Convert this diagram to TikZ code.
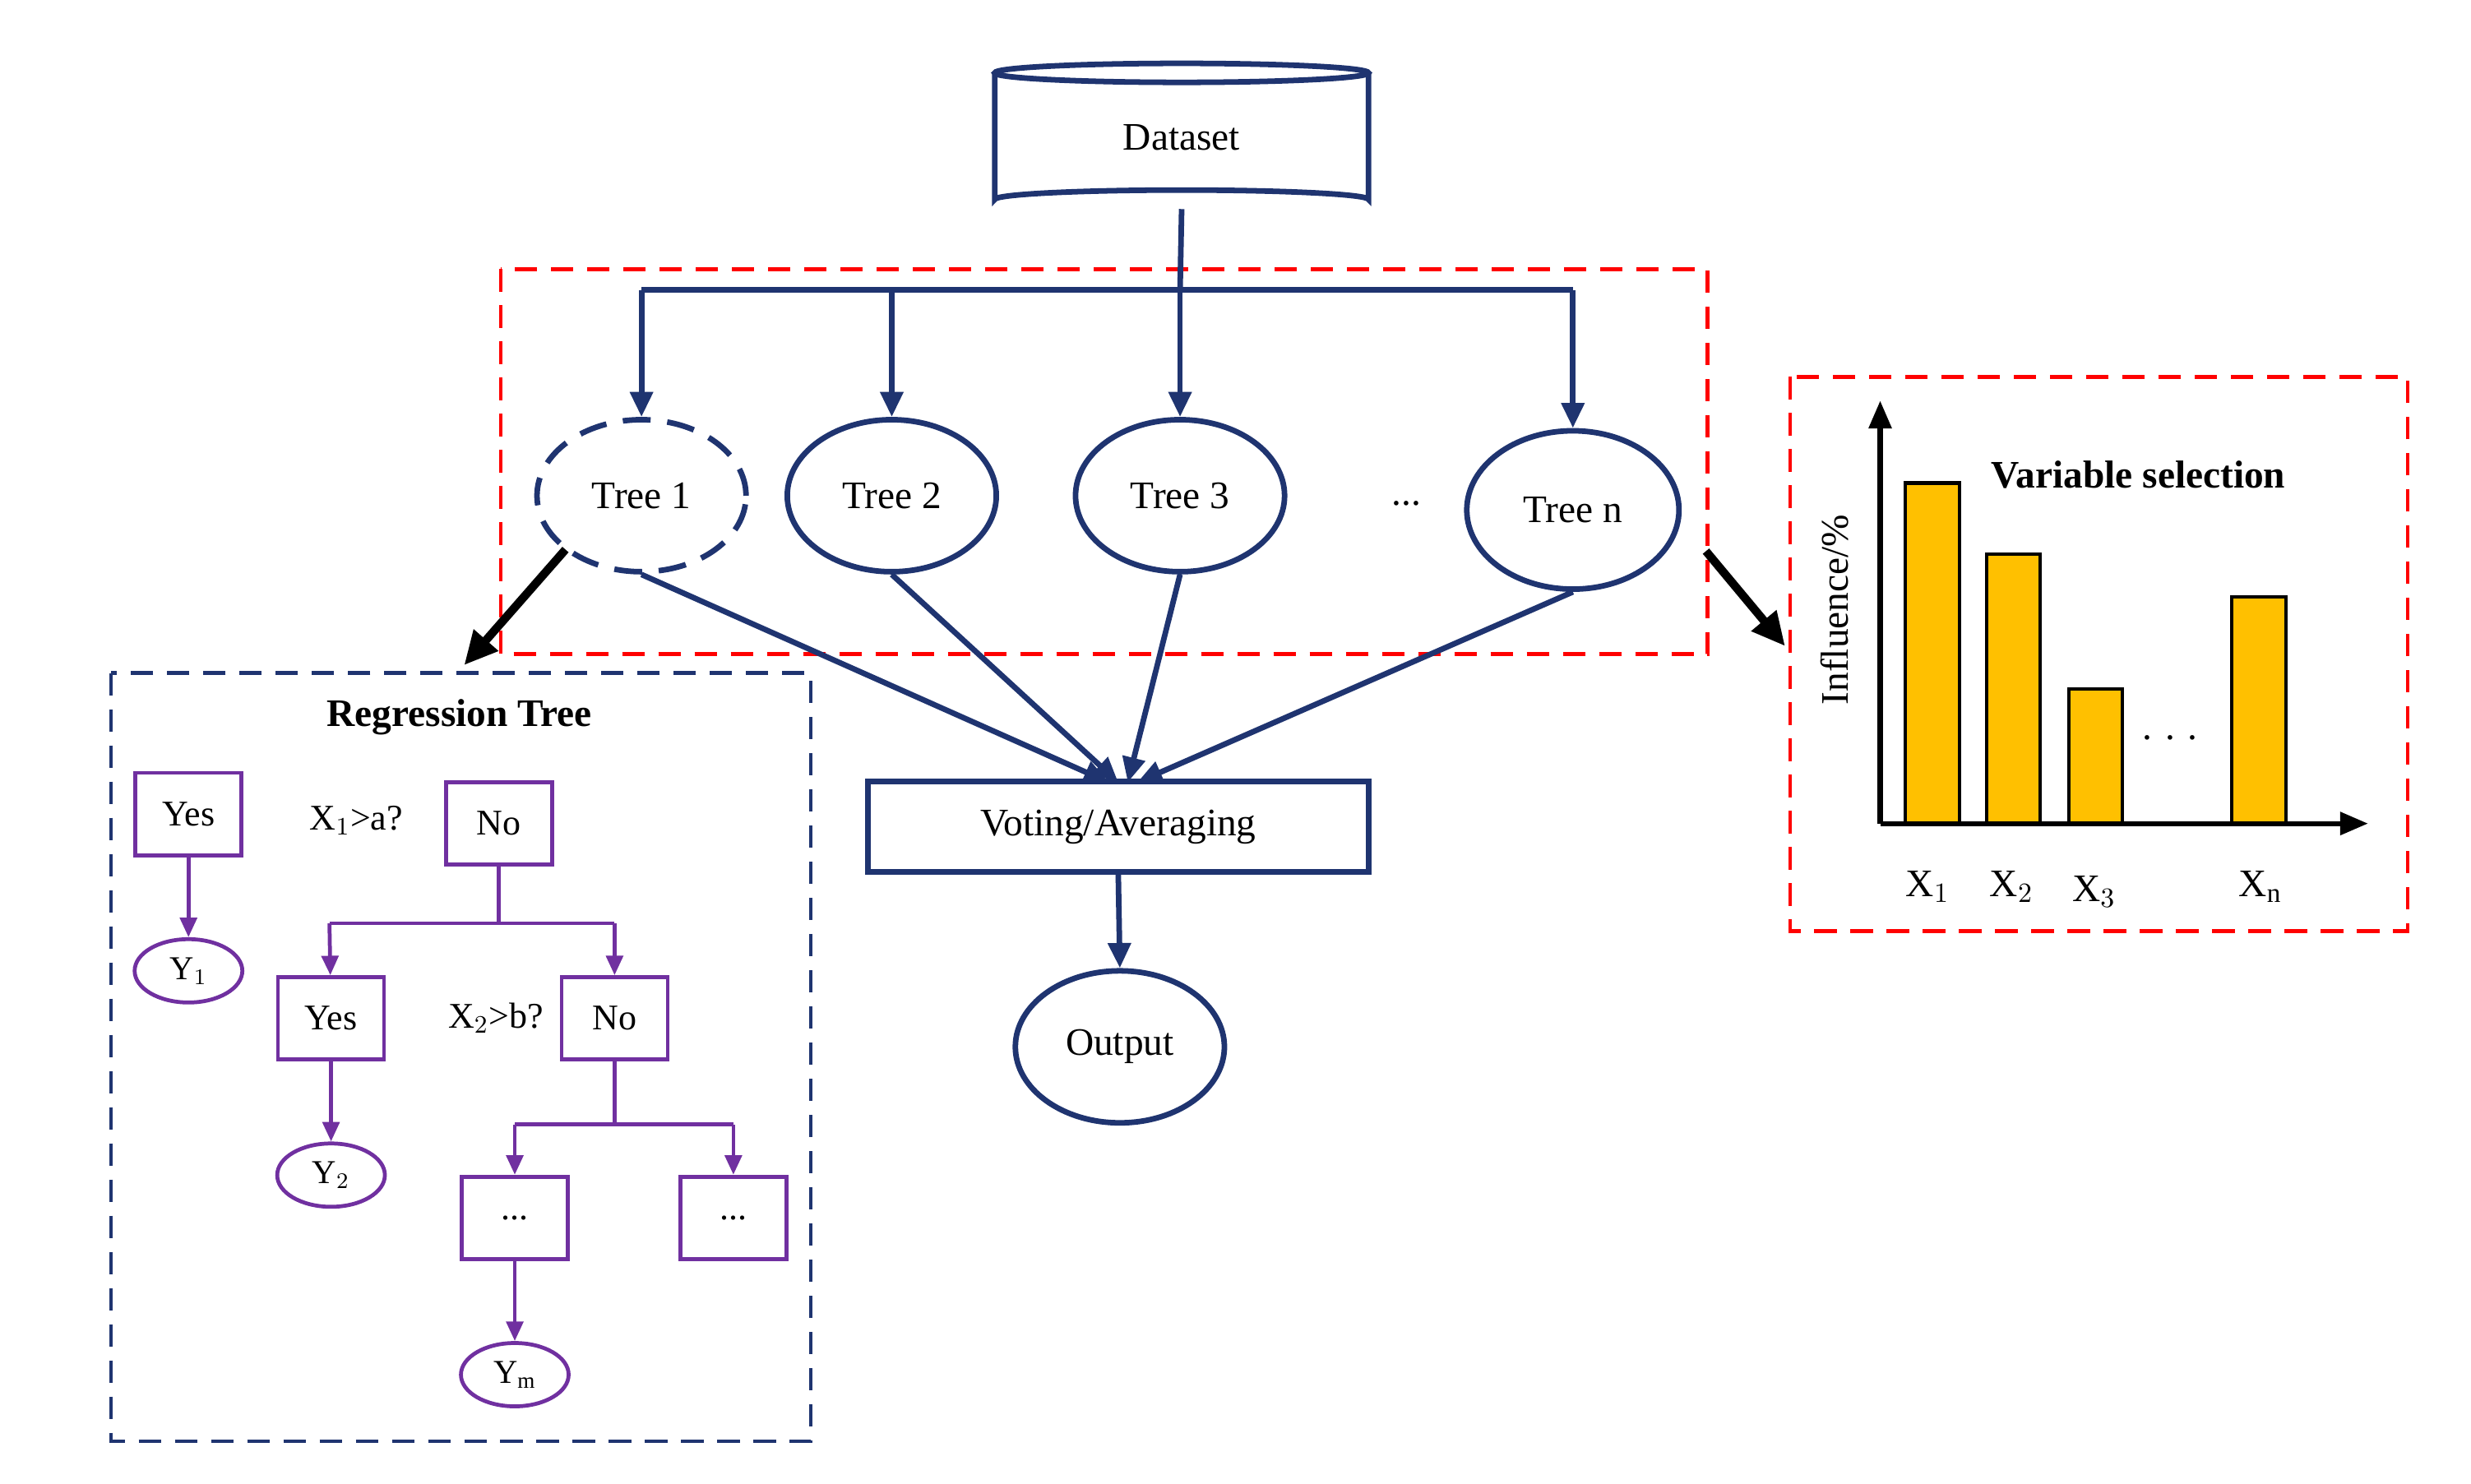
\documentclass[tikz,border=0pt]{standalone}
\usepackage{fontspec}
\setmainfont{Liberation Serif}
\usetikzlibrary{shapes.geometric,arrows.meta}
\definecolor{navy}{HTML}{1F3470}
\definecolor{purp}{HTML}{7030A0}
\definecolor{bar}{HTML}{FFC000}
\begin{document}
\begin{tikzpicture}[x=0.02cm,y=-0.02cm,
  nv/.style={draw=navy,line width=2pt},
  na/.style={nv,-{Triangle[length=9pt,width=8pt]}},
  tree/.style={nv,ellipse,minimum width=2.64cm,minimum height=1.92cm,font=\fontsize{14}{16}\selectfont},
  pb/.style={draw=purp,line width=1.4pt,minimum width=1.34cm,minimum height=1.04cm,font=\fontsize{13}{15}\selectfont},
  pe/.style={draw=purp,line width=1.4pt,ellipse,minimum width=1.36cm,minimum height=0.8cm,inner sep=0pt,font=\fontsize{12}{14}\selectfont},
  pa/.style={draw=purp,line width=1.4pt,-{Triangle[length=7pt,width=6pt]}},
  pl/.style={draw=purp,line width=1.4pt},
  bk/.style={draw=black,line width=3pt,-{Triangle[length=12pt,width=11pt]}},
  t/.style={font=\fontsize{14}{16}\selectfont}]
\useasboundingbox (0,0) rectangle (1560,937);
% Dataset cylinder
\draw[nv,fill=white] (628,46) -- (628,126) arc[start angle=180,end angle=360,x radius=118,y radius=6] -- (864,46);
\draw[nv] (746,46) ellipse[x radius=118,y radius=6];
\node[t] (ds) at (746,87) {Dataset};
\coordinate (dsb) at (746,132);
% red box
\draw[red,dashed,line width=1.3pt,dash pattern=on 8pt off 5pt] (316,170) rectangle (1078,413);
% trees
\node[tree,dashed,dash pattern=on 10pt off 6pt] (t1) at (405,313) {Tree 1};
\node[tree] (t2) at (563,313) {Tree 2};
\node[tree] (t3) at (745,313) {Tree 3};
\node[tree,minimum height=2.0cm,minimum width=2.68cm] (tn) at (993,322) {Tree n};
\node[t] (dots) at (888,318) {...};
\coordinate (hl) at (405,183);
\coordinate (hr) at (993,183);
\draw[nv] (dsb) -- (745,183);
\draw[nv] (hl) -- (hr);
\draw[na] (hl) -- (t1.north);
\draw[na] (563,183) -- (t2.north);
\draw[na] (745,183) -- (t3.north);
\draw[na] (hr) -- (tn.north);
% voting
\node[nv,minimum width=6.32cm,minimum height=1.14cm,t] (vote) at (706,522) {Voting/Averaging};
\draw[na] (t1.south) -- (700,494);
\draw[na] (t2.south) -- (706,494);
\draw[na] (t3.south) -- (712,494);
\draw[na] (tn.south) -- (718,494);
\node[tree] (out) at (707,661) {Output};
\draw[na] (vote.south) -- (out.north);
% black arrows
\coordinate (b1s) at (357,347); \coordinate (b1e) at (293,420);
\coordinate (b2s) at (1077,348); \coordinate (b2e) at (1127,408);
\draw[bk] (b1s) -- (b1e);
\draw[bk] (b2s) -- (b2e);
% regression tree box
\draw[navy,dashed,line width=1.3pt,dash pattern=on 8pt off 5pt] (70,425) rectangle (512,910);
\node[font=\fontsize{14}{16}\selectfont\bfseries] (rt) at (290,453) {Regression Tree};
\node[pb] (yes1) at (119,514) {Yes};
\node[pe] (y1) at (119,613) {Y$_1$};
\draw[pa] (yes1) -- (y1);
\node[font=\fontsize{13}{15}\selectfont] (q1) at (225,518) {X$_1$>a?};
\node[pb] (no1) at (315,520) {No};
\coordinate (j1) at (315,583);
\draw[pl] (no1) -- (j1);
\draw[pl] (208,583) -- (388,583);
\node[pb] (yes2) at (209,643) {Yes};
\node[pb] (no2) at (388,643) {No};
\draw[pa] (208,583) -- (yes2);
\draw[pa] (388,583) -- (no2);
\node[font=\fontsize{13}{15}\selectfont] (q2) at (313,643) {X$_2$>b?};
\node[pe] (y2) at (209,742) {Y$_2$};
\draw[pa] (yes2) -- (y2);
\coordinate (j2) at (388,710);
\draw[pl] (no2) -- (j2);
\draw[pl] (325,710) -- (463,710);
\node[pb] (d1) at (325,769) {...};
\node[pb] (d2) at (463,769) {...};
\draw[pa] (325,710) -- (d1);
\draw[pa] (463,710) -- (d2);
\node[pe] (ym) at (325,868) {Y$_\mathrm{m}$};
\draw[pa] (d1) -- (ym);
% variable selection box
\draw[red,dashed,line width=1.3pt,dash pattern=on 8pt off 5pt] (1130,238) rectangle (1520,588);
\coordinate (o) at (1187,520);
\coordinate (ya) at (1187,253);
\coordinate (xa) at (1495,520);
\draw[line width=1.8pt] (1187,520) rectangle (1187,520);
\foreach \a/\b/\c in {1203/1237/305,1254/1288/350,1306/1340/435,1409/1443/377}
  \draw[fill=bar,line width=1.2pt] (\a,520) rectangle (\b,\c);
\draw[line width=1.8pt,-{Triangle[length=10pt,width=8pt]}] (o) -- (ya);
\draw[line width=1.8pt,-{Triangle[length=10pt,width=8pt]}] (o) -- (xa);
\node[font=\fontsize{14}{16}\selectfont\bfseries] (vs) at (1350,300) {Variable selection};
\node[t,rotate=90] (inf) at (1158,385) {Influence/\%};
\node[t] (vd) at (1370,466) {. . .};
\node[t] (x1) at (1217,560) {X$_1$};
\node[t] (x2) at (1270,560) {X$_2$};
\node[t] (x3) at (1322,563) {X$_3$};
\node[t] (xn) at (1427,560) {X$_\mathrm{n}$};
\end{tikzpicture}
\end{document}
